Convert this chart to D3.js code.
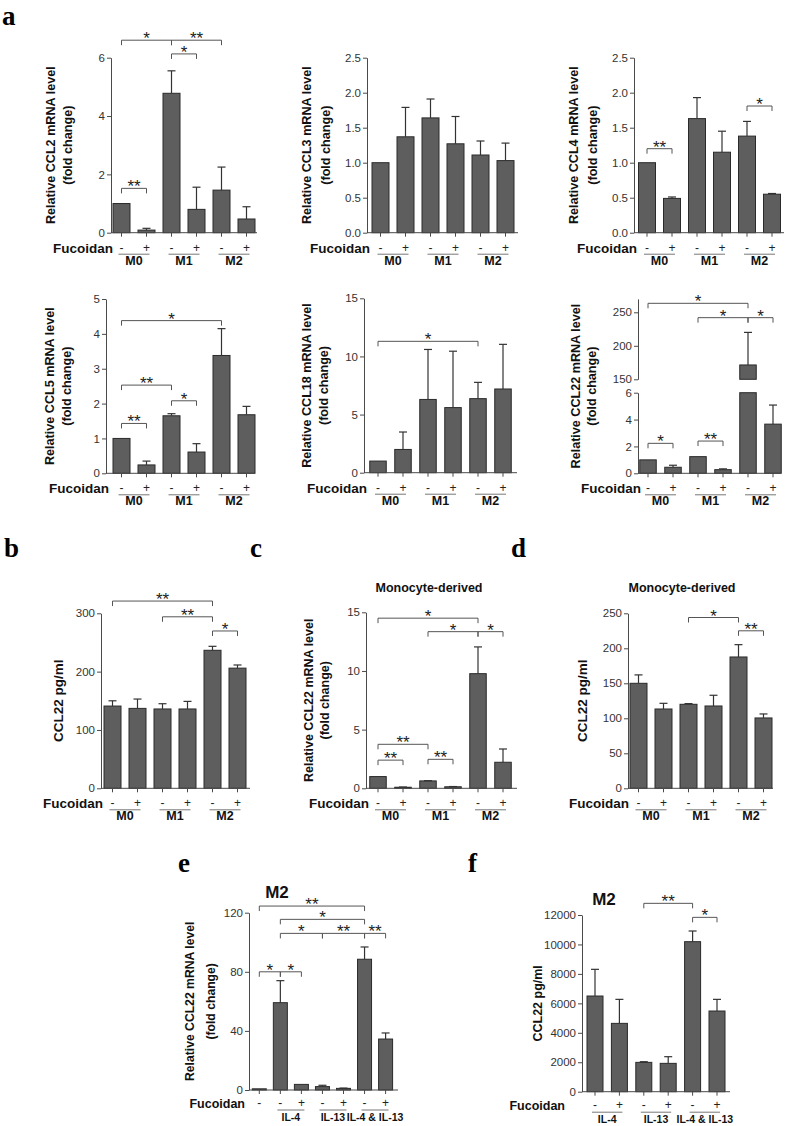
<!DOCTYPE html>
<html><head><meta charset="utf-8">
<script src="https://cdn.jsdelivr.net/npm/d3@7"></script>
<style>
body{margin:0;background:#fff}
svg{display:block}
text{font-family:"Liberation Sans",Arial,Helvetica,sans-serif}
</style>
</head><body>
<svg id="fig" width="787" height="1126"></svg>
<script>
// ---------------- DATA ----------------
const fucoidanSigns = ["-", "+", "-", "+", "-", "+"];
const macroGroups = ["M0", "M1", "M2"];
const macroGroupOf = [0, 0, 1, 1, 2, 2];

const ccl2Vals = [1.0, 0.09, 4.78, 0.80, 1.46, 0.47];
const ccl2Errs = [1.0, 0.15, 5.55, 1.56, 2.25, 0.89];
const ccl2Ticks = [0, 2, 4, 6];
const ccl2Sig = [[0, 2, 6.6, "*"], [2, 4, 6.6, "**"], [2, 3, 6.13, "*"], [0, 1, 1.52, "**"]];

const ccl3Vals = [1.0, 1.37, 1.64, 1.27, 1.11, 1.03];
const ccl3Errs = [1.0, 1.79, 1.91, 1.66, 1.31, 1.28];
const ccl3Ticks = [0, 0.5, 1.0, 1.5, 2.0, 2.5];
const ccl3Sig = [];

const ccl4Vals = [1.0, 0.49, 1.63, 1.15, 1.38, 0.55];
const ccl4Errs = [1.0, 0.51, 1.93, 1.45, 1.59, 0.56];
const ccl4Ticks = [0, 0.5, 1.0, 1.5, 2.0, 2.5];
const ccl4Sig = [[0, 1, 1.2, "**"], [4, 5, 1.81, "*"]];

const ccl5Vals = [1.0, 0.24, 1.65, 0.61, 3.38, 1.68];
const ccl5Errs = [1.0, 0.35, 1.71, 0.85, 4.15, 1.92];
const ccl5Ticks = [0, 1, 2, 3, 4, 5];
const ccl5Sig = [[0, 4, 4.38, "*"], [0, 2, 2.53, "**"], [2, 3, 2.08, "*"], [0, 1, 1.43, "**"]];

const ccl18Vals = [1.0, 2.0, 6.3, 5.6, 6.37, 7.2];
const ccl18Errs = [1.0, 3.5, 10.6, 10.45, 7.77, 11.04];
const ccl18Ticks = [0, 5, 10, 15];
const ccl18Sig = [[0, 4, 11.3, "*"]];

const ccl22Vals = [1.0, 0.45, 1.24, 0.27, 171.4, 3.66];
const ccl22Errs = [1.0, 0.60, 1.24, 0.33, 220, 5.08];
const ccl22LowTicks = [0, 2, 4, 6];
const ccl22HighTicks = [150, 200, 250];
const ccl22Sig = [[0, 1, 2.23, "*"], [2, 3, 2.4, "**"], [0, 4, 263.4, "*"], [2, 4, 242, "*"], [4, 5, 242, "*"]];

const bVals = [141, 137, 136, 136, 236.6, 206];
const bErrs = [150, 153, 145, 149, 243.4, 211.4];
const bTicks = [0, 100, 200, 300];
const bSig = [[0, 4, 321, "**"], [2, 4, 294, "**"], [4, 5, 269.7, "*"]];

const cVals = [1.0, 0.09, 0.63, 0.13, 9.77, 2.22];
const cErrs = [1.0, 0.11, 0.65, 0.15, 12.05, 3.35];
const cTicks = [0, 5, 10, 15];
const cSig = [[0, 4, 14.5, "*"], [2, 4, 13.35, "*"], [4, 5, 13.35, "*"], [0, 2, 3.75, "**"], [0, 1, 2.4, "**"], [2, 3, 2.47, "**"]];

const dVals = [150, 113.3, 120, 117.6, 187.6, 100.5];
const dErrs = [162, 121.4, 121, 132.9, 205.2, 106.2];
const dTicks = [0, 50, 100, 150, 200, 250];
const dSig = [[2, 4, 244, "*"], [4, 5, 225, "**"]];

const eSigns = ["-", "-", "+", "-", "+", "-", "+"];
const ilGroups = ["IL-4", "IL-13", "IL-4 & IL-13"];
const eGroupOf = [null, 0, 0, 1, 1, 2, 2];
const eVals = [0.8, 59.1, 3.8, 2.3, 1.1, 88.5, 34.5];
const eErrs = [0.8, 74, 3.8, 3.2, 1.3, 96.8, 38.6];
const eTicks = [0, 40, 80, 120];
const eSig = [[0, 5, 124.5, "**"], [1, 5, 115.5, "*"], [1, 3, 106, "*"], [3, 5, 106, "**"], [5, 6, 106, "**"], [0, 1, 80, "*"], [1, 2, 80, "*"]];

const fSigns = ["-", "+", "-", "+", "-", "+"];
const fGroupOf = [0, 0, 1, 1, 2, 2];
const fVals = [6498, 4641, 1992, 1925, 10188, 5480];
const fErrs = [8310, 6271, 2038, 2377, 10913, 6271];
const fTicks = [0, 2000, 4000, 6000, 8000, 10000, 12000];
const fSig = [[2, 4, 12792, "**"], [4, 5, 11840, "*"]];

// ---------------- DRAWING ----------------
const svg = d3.select("#fig");
const BAR_FILL = "#5e5e5e", BAR_STROKE = "#2a2a2a", AXIS = "#4a4a4a";

function panel(cfg) {
  const n = cfg.vals.length;
  const pi = 1 - cfg.bw / cfg.step;
  const x = d3.scaleBand().domain(d3.range(n))
    .range([cfg.c0 - cfg.step / 2, cfg.c0 - cfg.step / 2 + n * cfg.step])
    .paddingInner(pi).paddingOuter(pi / 2);
  const cx = i => x(i) + x.bandwidth() / 2;
  const segs = cfg.segs;
  const scales = segs.map(s => d3.scaleLinear().domain(s.dom).range(s.range));
  const segOf = v => (segs.length > 1 && v > segs[0].dom[1]) ? 1 : 0;
  const yv = v => scales[segOf(v)](v);
  const y0 = segs[0].range[0];
  const g = svg.append("g");

  const pieces = [];
  cfg.vals.forEach((v, i) => {
    if (segOf(v) === 1) {
      pieces.push({i, top: scales[0](segs[0].dom[1]), bot: scales[0](0)});
      pieces.push({i, top: scales[1](v), bot: scales[1](segs[1].dom[0])});
    } else {
      pieces.push({i, top: scales[0](v), bot: scales[0](0)});
    }
  });
  g.selectAll("rect.bar").data(pieces).join("rect").attr("class", "bar")
    .attr("x", d => x(d.i)).attr("width", x.bandwidth())
    .attr("y", d => d.top).attr("height", d => d.bot - d.top)
    .attr("fill", BAR_FILL).attr("stroke", BAR_STROKE).attr("stroke-width", 1);

  const errIdx = d3.range(n).filter(i => cfg.errs[i] > cfg.vals[i]);
  g.selectAll("line.err").data(errIdx).join("line").attr("class", "err")
    .attr("x1", i => cx(i)).attr("x2", i => cx(i))
    .attr("y1", i => yv(cfg.vals[i])).attr("y2", i => yv(cfg.errs[i]))
    .attr("stroke", "#333").attr("stroke-width", 1.2);
  g.selectAll("line.cap").data(errIdx).join("line").attr("class", "cap")
    .attr("x1", i => cx(i) - 4).attr("x2", i => cx(i) + 4)
    .attr("y1", i => yv(cfg.errs[i])).attr("y2", i => yv(cfg.errs[i]))
    .attr("stroke", "#333").attr("stroke-width", 1.2);

  segs.forEach((s, k) => {
    const ax = g.append("g").attr("transform", `translate(${cfg.axisX},0)`)
      .call(d3.axisLeft(scales[k]).tickValues(s.ticks).tickFormat(cfg.fmt || d3.format("d"))
        .tickSize(4).tickPadding(2).tickSizeOuter(0));
    ax.select(".domain").attr("stroke", AXIS);
    ax.selectAll(".tick line").attr("stroke", AXIS);
    ax.selectAll(".tick text").attr("fill", "#333").style("font-size", "11.5px");
  });

  g.append("line").attr("x1", cfg.axisX).attr("x2", cfg.xEnd).attr("y1", y0).attr("y2", y0)
    .attr("stroke", AXIS);
  const xa = g.append("g").attr("transform", `translate(0,${y0})`)
    .call(d3.axisBottom(x).tickSize(4).tickFormat(""));
  xa.select(".domain").remove();
  xa.selectAll(".tick line").attr("stroke", AXIS);

  g.selectAll("text.sign").data(cfg.signs).join("text").attr("class", "sign")
    .attr("x", (d, i) => cx(i)).attr("y", y0 + cfg.signDy)
    .attr("text-anchor", "middle").style("font-size", "12px").attr("fill", "#222")
    .text(d => d);
  g.append("text").attr("x", cfg.fucX).attr("y", y0 + cfg.signDy + 1)
    .attr("text-anchor", "end").style("font-size", cfg.fucSize + "px").style("font-weight", "bold")
    .attr("fill", "#111").text("Fucoidan");

  const grp = cfg.groups.map((lab, k) => {
    const idx = d3.range(n).filter(i => cfg.groupOf[i] === k);
    return {lab, a: cx(idx[0]), b: cx(idx[idx.length - 1])};
  });
  g.selectAll("line.grp").data(grp).join("line").attr("class", "grp")
    .attr("x1", d => d.a - 3).attr("x2", d => d.b + 3)
    .attr("y1", y0 + cfg.lineDy).attr("y2", y0 + cfg.lineDy)
    .attr("stroke", "#777").attr("stroke-width", 1);
  g.selectAll("text.grp").data(grp).join("text").attr("class", "grp")
    .attr("x", d => (d.a + d.b) / 2).attr("y", y0 + cfg.grpDy)
    .attr("text-anchor", "middle").style("font-size", cfg.grpSize + "px").style("font-weight", "bold")
    .attr("fill", "#111").text(d => d.lab);

  const top = segs[segs.length - 1].range[1];
  const midY = (y0 + top) / 2;
  cfg.ylab.forEach((t, k) => {
    g.append("text")
      .attr("transform", `translate(${cfg.axisX + cfg.ylabDx[k]},${midY}) rotate(-90)`)
      .attr("text-anchor", "middle").attr("dy", "0.35em")
      .style("font-size", (cfg.ylabSize || 12.6) + "px").style("font-weight", "bold").attr("fill", "#111").text(t);
  });

  cfg.sig.forEach(s => {
    const xa1 = cx(s[0]), xa2 = cx(s[1]), yy = yv(s[2]);
    g.append("path").attr("d", `M${xa1},${yy + 5}V${yy}H${xa2}V${yy + 5}`)
      .attr("fill", "none").attr("stroke", "#555").attr("stroke-width", 1);
    g.append("text").attr("x", (xa1 + xa2) / 2).attr("y", yy + 4)
      .attr("text-anchor", "middle").style("font-size", "17px").attr("fill", "#222").text(s[3]);
  });

  if (cfg.title) {
    svg.append("text").attr("x", cfg.title.x).attr("y", cfg.title.y).attr("text-anchor", "middle")
      .style("font-size", cfg.title.size + "px").style("font-weight", "bold").attr("fill", "#111")
      .text(cfg.title.text);
  }
}

const f1 = d3.format(".1f");
const common = {signs: fucoidanSigns, groups: macroGroups, groupOf: macroGroupOf,
  signDy: 19, lineDy: 21.5, grpDy: 32, grpSize: 12.5, fucSize: 13.5, step: 25, bw: 17};
const mrna = n => ["Relative " + n + " mRNA level", "(fold change)"];

panel({...common, vals: ccl2Vals, errs: ccl2Errs, sig: ccl2Sig, axisX: 111, c0: 121.5, xEnd: 257,
  segs: [{dom: [0, 6], range: [232.7, 57.7], ticks: ccl2Ticks}], fucX: 113, ylab: mrna("CCL2"), ylabDx: [-60, -43]});
panel({...common, vals: ccl3Vals, errs: ccl3Errs, sig: ccl3Sig, axisX: 367, c0: 380.5, xEnd: 518, fmt: f1,
  segs: [{dom: [0, 2.5], range: [232.7, 57.7], ticks: ccl3Ticks}], fucX: 370, ylab: mrna("CCL3"), ylabDx: [-60, -41]});
panel({...common, vals: ccl4Vals, errs: ccl4Errs, sig: ccl4Sig, axisX: 634, c0: 647, xEnd: 784, fmt: f1,
  segs: [{dom: [0, 2.5], range: [232.7, 57.7], ticks: ccl4Ticks}], fucX: 637, ylab: mrna("CCL4"), ylabDx: [-60, -41]});
panel({...common, vals: ccl5Vals, errs: ccl5Errs, sig: ccl5Sig, axisX: 106, c0: 121.5, xEnd: 252,
  segs: [{dom: [0, 5], range: [473.3, 299], ticks: ccl5Ticks}], fucX: 109, ylab: mrna("CCL5"), ylabDx: [-56, -39]});
panel({...common, vals: ccl18Vals, errs: ccl18Errs, sig: ccl18Sig, axisX: 364, c0: 378, xEnd: 517, bw: 16.5,
  segs: [{dom: [0, 15], range: [472.7, 298.3], ticks: ccl18Ticks}], fucX: 367, ylab: mrna("CCL18"), ylabDx: [-57, -40]});
panel({...common, vals: ccl22Vals, errs: ccl22Errs, sig: ccl22Sig, axisX: 638, c0: 648, xEnd: 781, bw: 16.5,
  segs: [{dom: [0, 6], range: [473.3, 392.7], ticks: ccl22LowTicks},
         {dom: [150, 270], range: [379.3, 298.9], ticks: ccl22HighTicks}],
  fucX: 641, ylab: mrna("CCL22"), ylabDx: [-62, -46]});

panel({...common, vals: bVals, errs: bErrs, sig: bSig, axisX: 101, c0: 112.5, xEnd: 250,
  segs: [{dom: [0, 300], range: [788.3, 613.3], ticks: bTicks}], fucX: 103, ylab: ["CCL22 pg/ml"], ylabDx: [-43], ylabSize: 13.5});
panel({...common, vals: cVals, errs: cErrs, sig: cSig, axisX: 366, c0: 378, xEnd: 517, bw: 16.5,
  segs: [{dom: [0, 15], range: [788.3, 612.3], ticks: cTicks}], fucX: 369, ylab: mrna("CCL22"), ylabDx: [-57, -41], ylabSize: 12.5,
  title: {text: "Monocyte-derived", x: 429, y: 592, size: 12.5}});
panel({...common, vals: dVals, errs: dErrs, sig: dSig, axisX: 628, c0: 638.5, xEnd: 773,
  segs: [{dom: [0, 250], range: [788.3, 613.3], ticks: dTicks}], fucX: 629, ylab: ["CCL22 pg/ml"], ylabDx: [-46], ylabSize: 13.5,
  title: {text: "Monocyte-derived", x: 682, y: 592, size: 12.5}});

panel({vals: eVals, errs: eErrs, sig: eSig, signs: eSigns, groups: ilGroups, groupOf: eGroupOf,
  axisX: 249, c0: 259.3, step: 21.05, bw: 14, xEnd: 398,
  segs: [{dom: [0, 120], range: [1090, 912.7], ticks: eTicks}],
  signDy: 17, lineDy: 20, grpDy: 31, grpSize: 10.5, fucSize: 12.5, fucX: 245,
  ylab: mrna("CCL22"), ylabDx: [-59, -38], ylabSize: 12.2,
  title: {text: "M2", x: 277, y: 898, size: 17}});
panel({vals: fVals, errs: fErrs, sig: fSig, signs: fSigns, groups: ilGroups, groupOf: fGroupOf,
  axisX: 582, c0: 595, step: 24.4, bw: 16, xEnd: 730,
  segs: [{dom: [0, 12000], range: [1091.7, 915], ticks: fTicks}],
  signDy: 17.5, lineDy: 20.5, grpDy: 31.5, grpSize: 10.5, fucSize: 12.5, fucX: 565,
  ylab: ["CCL22 pg/ml"], ylabDx: [-44], ylabSize: 12.5,
  title: {text: "M2", x: 604, y: 905, size: 17}});

const letters = [["a", 2, 25], ["b", 4, 557], ["c", 250, 557], ["d", 511, 557], ["e", 178, 872], ["f", 468, 872]];
svg.selectAll("text.letter").data(letters).join("text").attr("class", "letter")
  .attr("x", d => d[1]).attr("y", d => d[2])
  .style("font-family", "'Liberation Serif','Times New Roman',serif")
  .style("font-size", "27px").style("font-weight", "bold").attr("fill", "#000").text(d => d[0]);
</script>
</body></html>
